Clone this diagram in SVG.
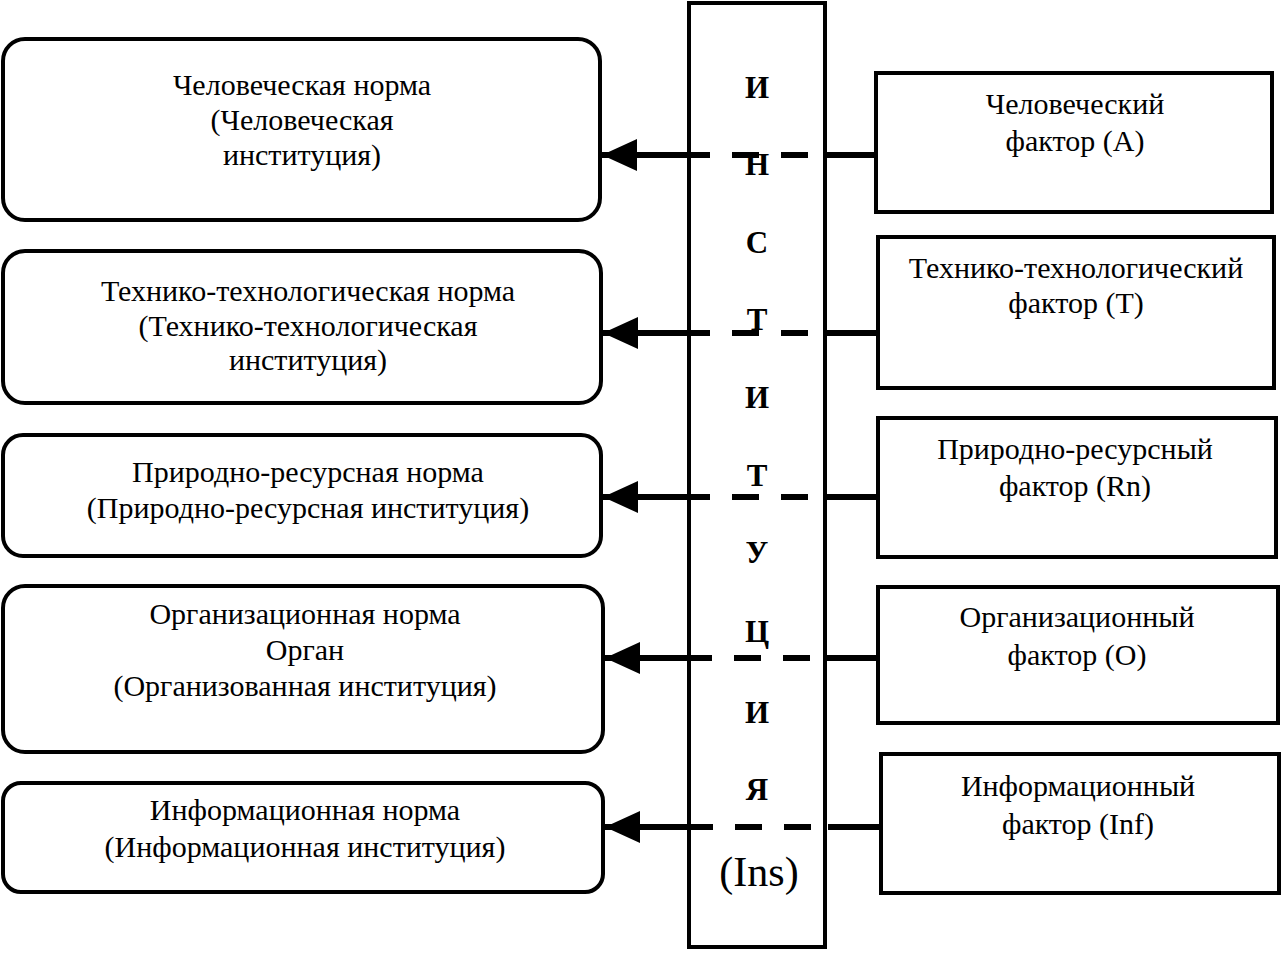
<svg xmlns="http://www.w3.org/2000/svg" width="1281" height="953" viewBox="0 0 1281 953">
<style>
.box{fill:#fff;stroke:#000;stroke-width:4}
.t{font-family:"Liberation Serif","Times New Roman",serif;font-size:30px;fill:#000;text-anchor:middle}
.b{font-family:"Liberation Serif","Times New Roman",serif;font-size:31px;font-weight:bold;fill:#000;text-anchor:middle}
.ln{stroke:#000;stroke-width:6;fill:none}
.dash{stroke:#000;stroke-width:6;fill:none;stroke-dasharray:27 22}
</style>
<defs>
<marker id="ah" markerWidth="36" markerHeight="34" refX="35" refY="17" orient="auto" markerUnits="userSpaceOnUse">
<path d="M0,1 L35,17 L0,33 Z" fill="#000"/>
</marker>
</defs>
<rect width="1281" height="953" fill="#fff"/>

<g id="institution">
<rect class="box" x="689" y="3" width="136" height="944"/>
<text class="b" x="757" y="98">И</text>
<text class="b" x="757" y="175">Н</text>
<text class="b" x="757" y="253">С</text>
<text class="b" x="757" y="330">Т</text>
<text class="b" x="757" y="408">И</text>
<text class="b" x="757" y="486">Т</text>
<text class="b" x="757" y="563">У</text>
<text class="b" x="757" y="642">Ц</text>
<text class="b" x="757" y="723">И</text>
<text class="b" x="757" y="800">Я</text>
<text class="t" x="759" y="886" style="font-size:42px">(Ins)</text>
</g>

<g id="norm-human">
<rect class="box" x="3" y="39" width="597" height="181" rx="22"/>
<text class="t" x="302" y="95">Человеческая норма</text>
<text class="t" x="302" y="130">(Человеческая</text>
<text class="t" x="302" y="165">институция)</text>
</g>
<g id="norm-tech">
<rect class="box" x="3" y="251" width="598" height="152" rx="22"/>
<text class="t" x="308" y="301">Технико-технологическая норма</text>
<text class="t" x="308" y="336">(Технико-технологическая</text>
<text class="t" x="308" y="370">институция)</text>
</g>
<g id="norm-nature">
<rect class="box" x="3" y="435" width="598" height="121" rx="20"/>
<text class="t" x="308" y="482">Природно-ресурсная норма</text>
<text class="t" x="308" y="518">(Природно-ресурсная институция)</text>
</g>
<g id="norm-org">
<rect class="box" x="3" y="586" width="600" height="166" rx="22"/>
<text class="t" x="305" y="624">Организационная норма</text>
<text class="t" x="305" y="660">Орган</text>
<text class="t" x="305" y="696">(Организованная институция)</text>
</g>
<g id="norm-info">
<rect class="box" x="3" y="783" width="600" height="109" rx="18"/>
<text class="t" x="305" y="820">Информационная норма</text>
<text class="t" x="305" y="857">(Информационная институция)</text>
</g>

<g id="factor-human">
<rect class="box" x="876" y="73" width="396" height="139"/>
<text class="t" x="1075" y="114">Человеческий</text>
<text class="t" x="1075" y="151">фактор (А)</text>
</g>
<g id="factor-tech">
<rect class="box" x="878" y="237" width="396" height="151"/>
<text class="t" x="1076" y="278">Технико-технологический</text>
<text class="t" x="1076" y="313">фактор (Т)</text>
</g>
<g id="factor-nature">
<rect class="box" x="878" y="418" width="398" height="139"/>
<text class="t" x="1075" y="459">Природно-ресурсный</text>
<text class="t" x="1075" y="496">фактор (Rn)</text>
</g>
<g id="factor-org">
<rect class="box" x="878" y="587" width="400" height="136"/>
<text class="t" x="1077" y="627">Организационный</text>
<text class="t" x="1077" y="665">фактор (О)</text>
</g>
<g id="factor-info">
<rect class="box" x="881" y="754" width="398" height="139"/>
<text class="t" x="1078" y="796">Информационный</text>
<text class="t" x="1078" y="834">фактор (Inf)</text>
</g>

<g id="connectors">
<path class="ln" d="M710,155 L602,155" marker-end="url(#ah)"/>
<path class="dash" d="M732,155 L825,155"/>
<path class="ln" d="M825,155 L876,155"/>

<path class="ln" d="M710,333 L603,333" marker-end="url(#ah)"/>
<path class="dash" d="M732,333 L825,333"/>
<path class="ln" d="M825,333 L878,333"/>

<path class="ln" d="M710,497 L603,497" marker-end="url(#ah)"/>
<path class="dash" d="M732,497 L825,497"/>
<path class="ln" d="M825,497 L878,497"/>

<path class="ln" d="M712,658 L605,658" marker-end="url(#ah)"/>
<path class="dash" d="M734,658 L827,658"/>
<path class="ln" d="M827,658 L878,658"/>

<path class="ln" d="M713,827 L605,827" marker-end="url(#ah)"/>
<path class="dash" d="M735,827 L828,827"/>
<path class="ln" d="M828,827 L881,827"/>
</g>
</svg>
